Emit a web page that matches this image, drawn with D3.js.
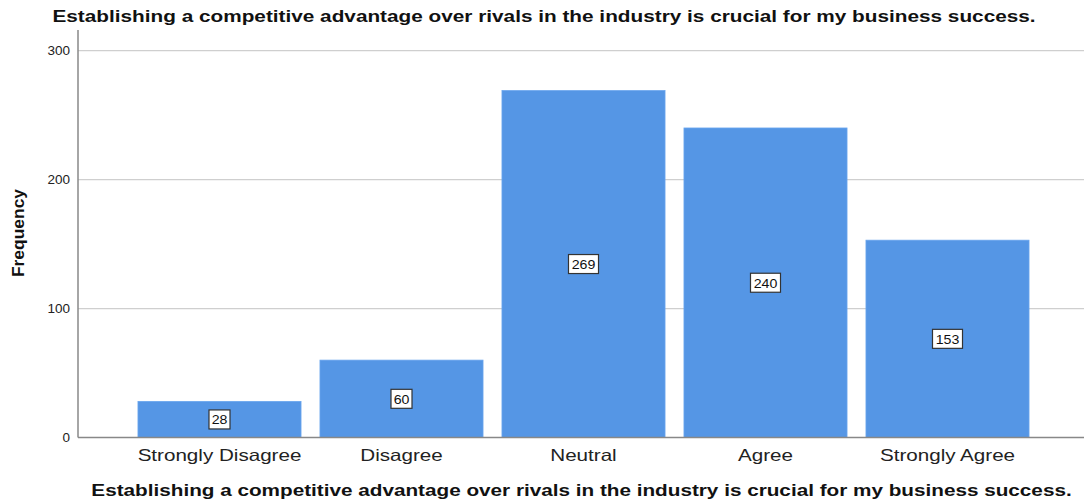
<!DOCTYPE html>
<html>
<head>
<meta charset="utf-8">
<script src="https://cdn.jsdelivr.net/npm/d3@7"></script>
<style>
  html, body { margin: 0; padding: 0; background: #fff; }
  svg { display: block; }
</style>
</head>
<body>
<svg id="chart" width="1084" height="503"></svg>
<script>
// Survey responses and their frequencies
const categories = ["Strongly Disagree", "Disagree", "Neutral", "Agree", "Strongly Agree"];
const frequencies = [28, 60, 269, 240, 153];
const yTicks = [0, 100, 200, 300];
const titleText = "Establishing a competitive advantage over rivals in the industry is crucial for my business success.";

(function draw() {
  const svg = d3.select("#chart");
  const plotLeft = 78, plotRight = 1084, plotTop = 30, plotBottom = 437.5;

  const x = d3.scaleBand()
    .domain(categories)
    .range([128.5, 1038.5])
    .paddingInner(0.104)
    .paddingOuter(0.052);

  const y = d3.scaleLinear()
    .domain([0, 300])
    .range([plotBottom, 50.6]);

  const font = "Liberation Sans, Arial, sans-serif";

  // Horizontal gridlines
  svg.append("g")
    .selectAll("line")
    .data(yTicks.filter(d => d > 0))
    .join("line")
    .attr("x1", plotLeft).attr("x2", plotRight)
    .attr("y1", d => y(d)).attr("y2", d => y(d))
    .attr("stroke", "#cfcfcf")
    .attr("stroke-width", 1.2);

  // Bars
  svg.append("g")
    .selectAll("rect")
    .data(frequencies)
    .join("rect")
    .attr("x", (d, i) => x(categories[i]))
    .attr("y", d => y(d))
    .attr("width", x.bandwidth())
    .attr("height", d => y(0) - y(d))
    .attr("fill", "#5596e5")
    .attr("stroke", "#6aa6ee")
    .attr("stroke-width", 0.8);

  // Value labels in boxes at the middle of each bar
  const labels = svg.append("g")
    .selectAll("g")
    .data(frequencies)
    .join("g")
    .attr("transform", (d, i) => `translate(${x(categories[i]) + x.bandwidth() / 2},${(y(d) + y(0)) / 2})`);

  labels.append("rect")
    .attr("x", d => -(String(d).length * 9 + 3) / 2)
    .attr("y", -9.5)
    .attr("width", d => String(d).length * 9 + 3)
    .attr("height", 19)
    .attr("fill", "#fff")
    .attr("stroke", "#333")
    .attr("stroke-width", 1.2);

  labels.append("text")
    .attr("text-anchor", "middle")
    .attr("dy", "0.36em")
    .attr("transform", "scale(1.05,1)")
    .attr("font-family", font)
    .attr("font-size", 13.5)
    .attr("fill", "#111")
    .text(d => d);

  // Y axis
  const yAxis = svg.append("g")
    .attr("transform", `translate(${plotLeft},0)`)
    .call(d3.axisLeft(y).tickValues(yTicks).tickSize(0).tickPadding(8).tickFormat(d3.format("d")));
  yAxis.select(".domain").remove();
  yAxis.selectAll("text")
    .attr("x", -8 / 1.08)
    .attr("transform", "scale(1.08,1)")
    .attr("font-family", font)
    .attr("font-size", 12.5)
    .attr("fill", "#222");
  svg.append("line")
    .attr("x1", plotLeft).attr("x2", plotLeft)
    .attr("y1", plotTop).attr("y2", plotBottom)
    .attr("stroke", "#888").attr("stroke-width", 1.5);

  // X axis
  const xAxis = svg.append("g")
    .attr("transform", `translate(0,${plotBottom})`)
    .call(d3.axisBottom(x).tickSize(0).tickPadding(12));
  xAxis.select(".domain").remove();
  xAxis.selectAll("text")
    .attr("transform", "scale(1.25,1)")
    .attr("font-family", font)
    .attr("font-size", 16.5)
    .attr("fill", "#222");
  svg.append("line")
    .attr("x1", plotLeft).attr("x2", plotRight)
    .attr("y1", plotBottom).attr("y2", plotBottom)
    .attr("stroke", "#888").attr("stroke-width", 1.5);

  // Titles
  svg.append("text")
    .attr("transform", "translate(544,22) scale(1.259,1)")
    .attr("text-anchor", "middle")
    .attr("font-family", font)
    .attr("font-weight", "bold")
    .attr("font-size", 16.5)
    .attr("fill", "#111")
    .text(titleText);

  svg.append("text")
    .attr("transform", "translate(581.5,496) scale(1.255,1)")
    .attr("text-anchor", "middle")
    .attr("font-family", font)
    .attr("font-weight", "bold")
    .attr("font-size", 16.5)
    .attr("fill", "#111")
    .text(titleText);

  svg.append("text")
    .attr("transform", "translate(24,233) rotate(-90) scale(1.09,1)")
    .attr("text-anchor", "middle")
    .attr("font-family", font)
    .attr("font-weight", "bold")
    .attr("font-size", 16)
    .attr("fill", "#111")
    .text("Frequency");
})();
</script>
</body>
</html>
